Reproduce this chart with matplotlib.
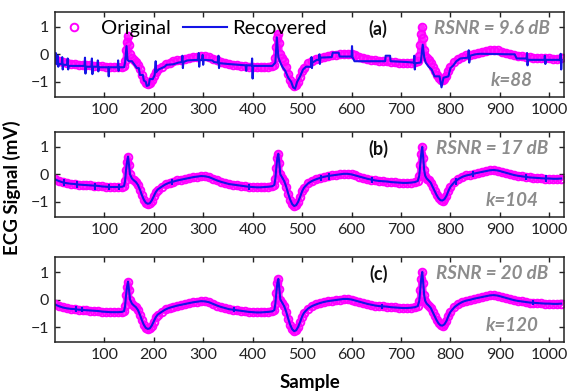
import matplotlib.pyplot as plt

plt.rcParams["font.family"] = ["Lato", "DejaVu Sans"]

# ---------------------------------------------------------------------------
# Data
# ---------------------------------------------------------------------------
sample_ticks = [100, 200, 300, 400, 500, 600, 700, 800, 900, 1000]
signal_ticks = [-1, 0, 1]

# Original ECG trace (magenta circles)
orig_x = [0, 8, 16, 24, 32, 40, 48, 56, 64, 72, 80, 88, 96, 104, 112, 120, 128, 136,
          140, 142, 144, 146, 148, 150, 152, 156, 160, 164, 168, 172, 176, 180, 184,
          188, 192, 196, 200, 204, 208, 216, 224, 232, 240, 248, 256, 264, 272, 280,
          288, 296, 304, 312, 320, 328, 336, 344, 352, 360, 368, 376, 384, 392, 400,
          408, 416, 424, 432, 440, 444, 446, 448, 450, 452, 454, 456, 460, 464, 468,
          472, 476, 480, 484, 488, 492, 496, 500, 504, 512, 520, 528, 536, 544, 552,
          560, 568, 576, 584, 592, 600, 608, 616, 624, 632, 640, 648, 656, 664, 672,
          680, 688, 696, 704, 712, 720, 728, 734, 737, 739, 741, 743, 745, 747, 749,
          752, 756, 760, 764, 768, 772, 776, 780, 784, 788, 792, 796, 800, 808, 816,
          824, 832, 840, 848, 856, 864, 872, 880, 888, 896, 904, 912, 920, 928, 936,
          944, 952, 960, 968, 976, 984, 992, 1000, 1008, 1016, 1024]
orig_y = [-0.18, -0.24, -0.29, -0.32, -0.34, -0.35, -0.37, -0.38, -0.39, -0.40, -0.41,
          -0.42, -0.44, -0.45, -0.46, -0.46, -0.46, -0.45,
          -0.42, -0.25, 0.15, 0.45, 0.65, 0.35, 0.0, -0.15, -0.22, -0.28, -0.38, -0.55,
          -0.75, -0.92, -1.03, -1.07, -1.05, -0.95, -0.80, -0.65, -0.55, -0.45, -0.36,
          -0.30, -0.26, -0.22, -0.19, -0.16, -0.13, -0.10, -0.08, -0.06, -0.07, -0.10,
          -0.16, -0.22, -0.27, -0.31, -0.35, -0.37, -0.39, -0.41, -0.43, -0.45, -0.46,
          -0.47, -0.47, -0.46, -0.45, -0.43, -0.38, -0.15, 0.25, 0.6, 0.75, 0.4, 0.0,
          -0.12, -0.25, -0.45, -0.70, -0.92, -1.08, -1.15, -1.12, -1.0, -0.82, -0.62,
          -0.48, -0.33, -0.24, -0.18, -0.13, -0.09, -0.06, -0.04, -0.02, 0.0, 0.02,
          0.02, 0.0, -0.04, -0.08, -0.12, -0.16, -0.19, -0.22, -0.24, -0.25, -0.26,
          -0.28, -0.29, -0.30, -0.31, -0.31, -0.30, -0.28, -0.24, -0.05, 0.35, 0.75,
          1.0, 0.6, 0.15, -0.05, -0.15, -0.22, -0.30, -0.45, -0.60, -0.75, -0.87,
          -0.94, -0.95, -0.90, -0.78, -0.60, -0.45, -0.28, -0.17, -0.09, -0.04, -0.01,
          0.03, 0.06, 0.09, 0.12, 0.15, 0.16, 0.14, 0.10, 0.06, 0.02, -0.02, -0.05,
          -0.07, -0.09, -0.11, -0.12, -0.13, -0.14, -0.15, -0.15, -0.16, -0.16, -0.15]

# Recovered trace, k=88 (staircase with many spikes)
rec_a_x = [0, 2, 3, 5, 6, 7, 8, 14, 15, 16, 17, 25, 26, 27, 28, 60, 61, 62, 63,
           74, 75, 76, 77, 86, 87, 88, 89, 108, 109, 110, 127, 128, 129, 130,
           140, 142, 145, 147, 150, 156, 160, 166, 170, 172, 178, 180, 184, 186,
           190, 192, 198, 202, 204, 205, 210, 216, 222, 226, 240, 250, 257, 258,
           259, 260, 268, 290, 291, 292, 293, 298, 299, 300, 301, 318, 322, 330,
           331, 332, 333, 350, 386, 387, 388, 398, 399, 400, 401, 440, 446, 449,
           452, 456, 460, 466, 472, 478, 482, 486, 490, 496, 502, 508, 518, 519,
           520, 521, 530, 534, 535, 536, 537, 560, 562, 574, 576, 600, 601, 602,
           606, 668, 669, 678, 679, 712, 726, 727, 728, 729, 740, 744, 747, 750,
           756, 762, 768, 778, 782, 786, 796, 800, 806, 812, 820, 836, 837, 838,
           840, 850, 860, 930, 934, 954, 955, 956, 957, 990, 991, 992, 993, 1022,
           1023, 1024, 1025]
rec_a_y = [-0.1, 0.05, -0.35, -0.3, -0.05, -0.45, -0.35, -0.35, -0.1, -0.55, -0.38,
           -0.38, -0.15, -0.55, -0.42, -0.42, -0.12, -0.7, -0.45,
           -0.45, -0.15, -0.72, -0.45, -0.45, -0.22, -0.62, -0.47, -0.47, -0.8,
           -0.47, -0.47, -0.22, -0.6, -0.47,
           -0.47, -0.3, 0.3, -0.2, -0.25, -0.25, -0.35, -0.5, -0.5, -0.75, -0.75,
           -0.95, -1.0, -1.15, -1.12, -0.9, -0.9, -0.75, -0.25, -0.65, -0.55, -0.5,
           -0.45, -0.38, -0.36, -0.3, -0.28, -0.05, -0.5, -0.28, -0.22, -0.2, 0.05,
           -0.45, -0.2, -0.2, -0.02, -0.38, -0.2, -0.22, -0.28, -0.3, -0.05, -0.5,
           -0.32, -0.35, -0.4, -0.6, -0.4, -0.4, -0.15, -0.88, -0.42, -0.42, -0.3,
           0.62, -0.1, -0.3, -0.45, -0.6, -0.85, -1.0, -1.2, -1.25, -1.0, -0.8,
           -0.55, -0.45, -0.45, -0.1, -0.5, -0.3, -0.2, -0.2, 0.0, -0.35, -0.12,
           -0.1, 0.06, 0.06, -0.08, -0.08, 0.3, -0.1, -0.25, -0.25, -0.05, -0.05,
           -0.25, -0.28, -0.3, -0.05, -0.55, -0.32, -0.3, 0.35, -0.1, -0.3, -0.45,
           -0.55, -0.8, -0.8, -1.2, -0.85, -0.8, -0.5, -0.4, -0.25, -0.15, -0.12,
           0.15, -0.3, -0.05, 0.0, 0.02, 0.0, -0.15, -0.15, 0.05, -0.4, -0.2, -0.2,
           -0.05, -0.35, -0.2, -0.2, 0.02, -0.55, -0.2]

# Recovered traces k=104 and k=120 lie on the original within pixel accuracy;
# only their short spikes stand out.
rec_b_y = orig_y
rec_c_y = orig_y
spike_b_x = [18, 45, 82, 109, 130, 237, 393, 538, 555, 642, 811, 845, 953, 993]
spike_b_lo = [-0.42, -0.48, -0.55, -0.58, -0.58, -0.38, -0.58, -0.25, -0.2,
              -0.32, -0.38, -0.1, -0.22, -0.26]
spike_b_hi = [-0.18, -0.24, -0.3, -0.34, -0.34, -0.15, -0.34, -0.02, 0.04,
              -0.08, -0.14, 0.12, 0.0, -0.04]
spike_c_x = [42, 55, 362, 662, 966]
spike_c_lo = [-0.45, -0.46, -0.46, -0.34, -0.2]
spike_c_hi = [-0.25, -0.26, -0.28, -0.16, -0.02]

panel_labels = ["(a)", "(b)", "(c)"]
rsnr_labels = ["RSNR = 9.6 dB", "RSNR = 17 dB", "RSNR = 20 dB"]
k_labels = ["k=88", "k=104", "k=120"]

# ---------------------------------------------------------------------------
# Figure
# ---------------------------------------------------------------------------
MAGENTA = "#ff00ff"
BLUE = "#1414e6"
GRAY = "#8c8c8c"

fig = plt.figure(figsize=(5.71, 3.91), dpi=100)
bottoms = [0.752, 0.445, 0.125]
axes = [fig.add_axes([0.096, b, 0.892, 0.218]) for b in bottoms]

recovered = [(rec_a_x, rec_a_y), (orig_x, rec_b_y), (orig_x, rec_c_y)]
spikes = [None, (spike_b_x, spike_b_lo, spike_b_hi), (spike_c_x, spike_c_lo, spike_c_hi)]

for i, ax in enumerate(axes):
    # a magenta line under the rings keeps the band solid between samples
    ax.plot(orig_x, orig_y, color=MAGENTA, linewidth=4, alpha=0.85,
            solid_capstyle="round")
    ax.plot(orig_x, orig_y, linestyle="none", marker="o", markersize=5.5,
            markerfacecolor="none", markeredgecolor=MAGENTA, markeredgewidth=1.4,
            label="Original")
    rx, ry = recovered[i]
    ax.plot(rx, ry, color=BLUE, linewidth=1.5, label="Recovered")
    if spikes[i] is not None:
        sx, lo, hi = spikes[i]
        ax.vlines(sx, lo, hi, color=BLUE, linewidth=1.5)

    ax.set_xlim(0, 1030)
    ax.set_ylim(-1.55, 1.55)
    ax.set_xticks(sample_ticks)
    ax.set_yticks(signal_ticks)
    ax.tick_params(direction="in", top=True, right=True, length=3.5, width=1,
                   labelsize=11.5, colors="#222222", pad=4)
    for sp in ax.spines.values():
        sp.set_linewidth(1.1)
        sp.set_color("#222222")

    ax.text(0.635, 0.80, panel_labels[i], transform=ax.transAxes, ha="center",
            va="center", fontsize=13, fontweight="bold", color="#111111")
    ax.text(0.858, 0.80, rsnr_labels[i], transform=ax.transAxes, ha="center",
            va="center", fontsize=13.5, fontweight="bold", style="italic", color=GRAY)
    ax.text(0.897, 0.19, k_labels[i], transform=ax.transAxes, ha="center",
            va="center", fontsize=13.5, fontweight="bold", style="italic", color=GRAY)

handles, labels = axes[0].get_legend_handles_labels()
axes[0].legend(handles, labels, loc="upper left", bbox_to_anchor=(-0.006, 0.90),
               ncol=2, frameon=False, fontsize=14.5, handlelength=2.2,
               handletextpad=0.25, columnspacing=0.6, borderpad=0, borderaxespad=0)

fig.text(0.021, 0.52, "ECG Signal (mV)", rotation=90, ha="center", va="center",
         fontsize=13.5, fontweight="bold")
fig.text(0.542, 0.023, "Sample", ha="center", va="center", fontsize=13.5,
         fontweight="bold")

fig.savefig("out.png", dpi=100)
